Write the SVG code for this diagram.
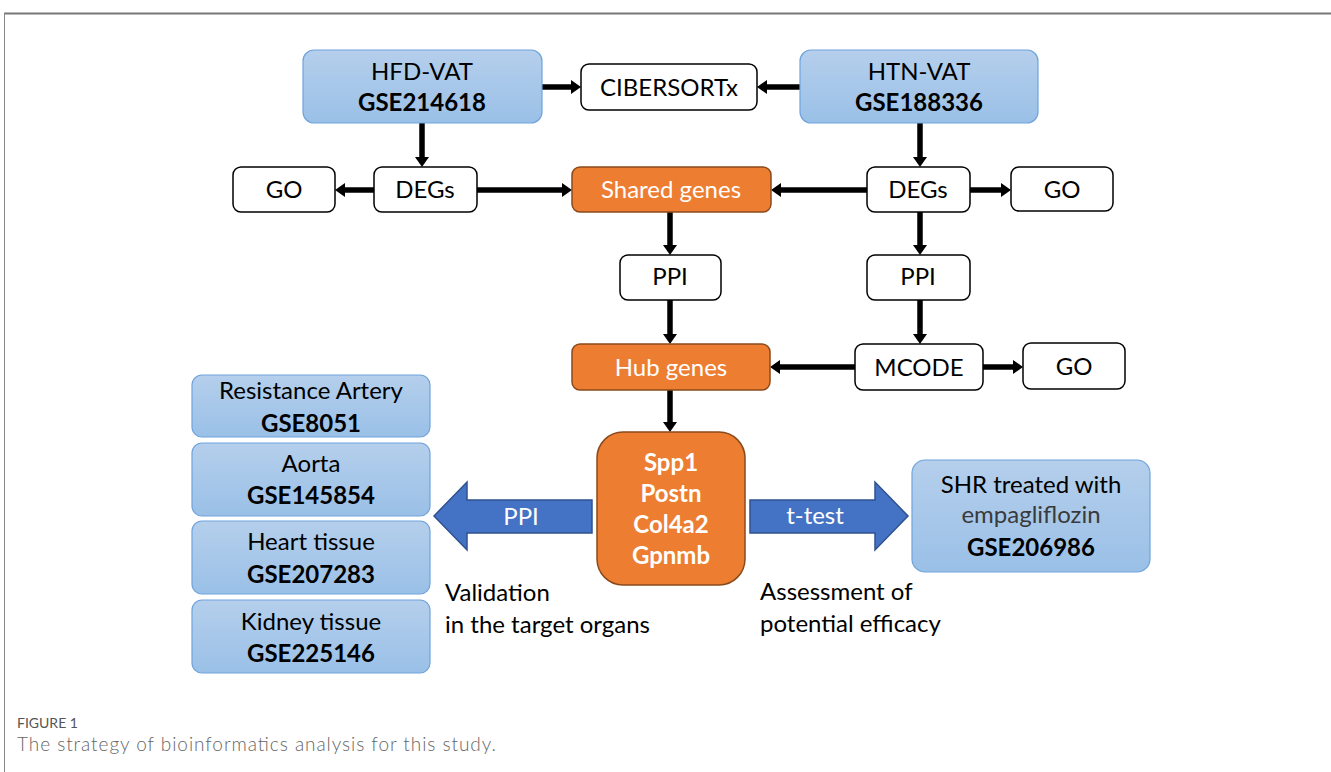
<svg xmlns="http://www.w3.org/2000/svg" width="1331" height="772" viewBox="0 0 1331 772">
<defs>
<linearGradient id="blueGrad" x1="0" y1="0" x2="0" y2="1">
<stop offset="0" stop-color="#b5cfec"/>
<stop offset="1" stop-color="#9ac0e7"/>
</linearGradient>
<marker id="ah" markerUnits="userSpaceOnUse" markerWidth="10" markerHeight="14" viewBox="0 0 10 14" refX="2" refY="7" orient="auto">
<path d="M0,0 L10,7 L0,14 z" fill="#000"/>
</marker>
</defs>
<style>
.t{font-family:Lato,"Liberation Sans",sans-serif;font-size:24px;fill:#000;text-anchor:middle}
.b{font-weight:bold}
.w{fill:#fff}
.blue{fill:url(#blueGrad);stroke:#6fa3dc;stroke-width:1.2}
.white{fill:#fff;stroke:#000;stroke-width:1.5}
.orange{fill:#ed7d31;stroke:#8a4a1b;stroke-width:1.5}
.conn path{fill:none;stroke:#000;stroke-width:5.5;marker-end:url(#ah)}
.barrow{fill:#4472c4;stroke:#2f528f;stroke-width:1.5}
.note{font-family:Lato,"Liberation Sans",sans-serif;font-size:24px;fill:#000}
</style>
<rect width="1331" height="772" fill="#fff"/>
<g id="frame">
<line x1="4" y1="13.5" x2="1331" y2="13.5" stroke="#777" stroke-width="2"/>
<line x1="4.5" y1="13" x2="4.5" y2="772" stroke="#888" stroke-width="1"/>
</g>
<g id="connectors" class="conn">
<path d="M541,87 H573"/>
<path d="M800,87 H765"/>
<path d="M422,123 V159"/>
<path d="M374,190 H343"/>
<path d="M477,190 H564"/>
<path d="M920,123 V159"/>
<path d="M867,190 H779"/>
<path d="M970,190 H1003"/>
<path d="M670,212 V247"/>
<path d="M920,212 V247"/>
<path d="M670,300 V336"/>
<path d="M920,300 V336"/>
<path d="M855,367 H778"/>
<path d="M983,367 H1015"/>
<path d="M670,390 V424"/>
</g>
<g id="hfd-vat"><rect class="blue" x="303" y="50" width="239" height="73" rx="11"/>
<text class="t" x="422" y="80">HFD-VAT</text><text class="t b" x="422" y="111">GSE214618</text></g>
<g id="cibersortx"><rect class="white" x="581" y="64" width="176" height="46" rx="8"/>
<text class="t" x="669" y="96">CIBERSORTx</text></g>
<g id="htn-vat"><rect class="blue" x="800" y="50" width="238" height="73" rx="11"/>
<text class="t" x="919" y="80">HTN-VAT</text><text class="t b" x="919" y="111">GSE188336</text></g>
<g id="go-left"><rect class="white" x="233" y="167" width="102" height="45" rx="8"/>
<text class="t" x="284" y="198">GO</text></g>
<g id="degs-left"><rect class="white" x="374" y="167" width="103" height="45" rx="8"/>
<text class="t" x="425" y="198">DEGs</text></g>
<g id="shared-genes"><rect class="orange" x="572" y="167" width="199" height="45" rx="8"/>
<text class="t w" x="671" y="198">Shared genes</text></g>
<g id="degs-right"><rect class="white" x="867" y="167" width="103" height="45" rx="8"/>
<text class="t" x="918" y="198">DEGs</text></g>
<g id="go-right"><rect class="white" x="1011" y="167" width="102" height="44" rx="8"/>
<text class="t" x="1062" y="198">GO</text></g>
<g id="ppi-left"><rect class="white" x="620" y="255" width="101" height="45" rx="8"/>
<text class="t" x="670" y="285">PPI</text></g>
<g id="ppi-right"><rect class="white" x="867" y="255" width="103" height="45" rx="8"/>
<text class="t" x="918" y="285">PPI</text></g>
<g id="hub-genes"><rect class="orange" x="572" y="344" width="198" height="46" rx="8"/>
<text class="t w" x="671" y="376">Hub genes</text></g>
<g id="mcode"><rect class="white" x="855" y="344" width="128" height="46" rx="8"/>
<text class="t" x="919" y="376">MCODE</text></g>
<g id="go-mcode"><rect class="white" x="1023" y="343" width="102" height="46" rx="8"/>
<text class="t" x="1074" y="375">GO</text></g>
<g id="hub-list"><rect class="orange" x="597" y="432" width="148" height="153" rx="26"/>
<text class="t w b" x="671" y="471">Spp1</text>
<text class="t w b" x="671" y="502">Postn</text>
<text class="t w b" x="671" y="533">Col4a2</text>
<text class="t w b" x="671" y="564">Gpnmb</text></g>
<g id="resistance-artery"><rect class="blue" x="192" y="375" width="238" height="62" rx="10"/>
<text class="t" x="311" y="399">Resistance Artery</text><text class="t b" x="311" y="432">GSE8051</text></g>
<g id="aorta"><rect class="blue" x="192" y="443" width="238" height="73" rx="10"/>
<text class="t" x="311" y="472">Aorta</text><text class="t b" x="311" y="504">GSE145854</text></g>
<g id="heart-tissue"><rect class="blue" x="192" y="521" width="238" height="73" rx="10"/>
<text class="t" x="311" y="550">Heart tissue</text><text class="t b" x="311" y="583">GSE207283</text></g>
<g id="kidney-tissue"><rect class="blue" x="192" y="600" width="238" height="73" rx="10"/>
<text class="t" x="311" y="630">Kidney tissue</text><text class="t b" x="311" y="662">GSE225146</text></g>
<g id="shr"><rect class="blue" x="912" y="460" width="238" height="112" rx="13"/>
<text class="t" x="1031" y="493">SHR treated with</text>
<text class="t" x="1031" y="523" style="fill:#3a3a3a">empagliflozin</text>
<text class="t b" x="1031" y="556">GSE206986</text></g>
<g id="ppi-arrow"><polygon class="barrow" points="592,500 467,500 467,482 434,516 467,550 467,533 592,533"/>
<text class="t w" x="521" y="525">PPI</text></g>
<g id="ttest-arrow"><polygon class="barrow" points="750,500 875,500 875,482 908,516 875,550 875,533 750,533"/>
<text class="t w" x="815" y="524">t-test</text></g>
<g id="notes">
<text class="note" x="445" y="601">Validation</text>
<text class="note" x="445" y="633">in the target organs</text>
<text class="note" x="760" y="600">Assessment of</text>
<text class="note" x="760" y="632">potential efficacy</text>
</g>
<g id="caption">
<text x="17" y="728" font-family="Lato,'Liberation Sans',sans-serif" font-size="14" fill="#555">FIGURE 1</text>
<text x="17" y="751" font-family="Lato,'Liberation Sans',sans-serif" font-size="19" font-weight="300" fill="#666" textLength="479">The strategy of bioinformatics analysis for this study.</text>
</g>
</svg>
